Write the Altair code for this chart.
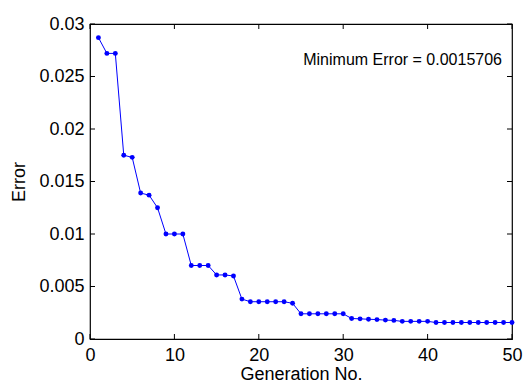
import altair as alt
import pandas as pd

generation = list(range(1, 51))
error = [
    0.0287, 0.0272, 0.0272, 0.0175, 0.0173, 0.0139, 0.0137, 0.0125, 0.0100, 0.0100,
    0.0100, 0.0070, 0.0070, 0.0070, 0.0061, 0.0061, 0.0060, 0.0038, 0.00355, 0.00355,
    0.00355, 0.00355, 0.00355, 0.0034, 0.0024, 0.0024, 0.0024, 0.0024, 0.0024, 0.0024,
    0.00195, 0.00192, 0.00188, 0.00185, 0.00180, 0.00177, 0.00168, 0.00168, 0.00168, 0.00168,
    0.00157, 0.00157, 0.00157, 0.00157, 0.00157, 0.00157, 0.00157, 0.00157, 0.00157, 0.0015706,
]
x_ticks = [0, 10, 20, 30, 40, 50]
y_ticks = [0, 0.005, 0.01, 0.015, 0.02, 0.025, 0.03]
annotation = "Minimum Error = 0.0015706"

FONT = "Liberation Sans"
df = pd.DataFrame({"gen": generation, "err": error})
xt = pd.DataFrame({"t": x_ticks})
yt = pd.DataFrame({"t": y_ticks})

xscale = alt.Scale(domain=[0, 50], nice=False, zero=False)
yscale = alt.Scale(domain=[0, 0.03], nice=False, zero=False)

xaxis = alt.Axis(values=x_ticks, title="Generation No.", grid=False, domain=False,
                 ticks=False, tickSize=0, labelPadding=7, labelFlush=False,
                 labelFont=FONT, labelFontSize=18, labelColor="black",
                 titleFont=FONT, titleFontSize=18, titleFontWeight="normal",
                 titleColor="black", titleBaseline="alphabetic", titleY=40)
yaxis = alt.Axis(values=y_ticks, title="Error", grid=False, domain=False,
                 ticks=False, tickSize=0, labelPadding=6, format="~g",
                 labelFont=FONT, labelFontSize=18, labelColor="black",
                 titleFont=FONT, titleFontSize=18, titleFontWeight="normal",
                 titleColor="black", titleX=-62)

line = alt.Chart(df).mark_line(color="#0000FF", strokeWidth=1).encode(
    x=alt.X("gen:Q", scale=xscale, axis=xaxis),
    y=alt.Y("err:Q", scale=yscale, axis=yaxis),
)
pts = alt.Chart(df).mark_circle(color="#0000FF", size=24, opacity=1).encode(
    x=alt.X("gen:Q", scale=xscale), y=alt.Y("err:Q", scale=yscale)
)

tick_color = "black"
bottom = alt.Chart(xt).mark_rule(color=tick_color, strokeWidth=1, y2Offset=-5).encode(
    x=alt.X("t:Q", scale=xscale), y=alt.datum(0), y2=alt.datum(0))
top = alt.Chart(xt).mark_rule(color=tick_color, strokeWidth=1, y2Offset=5).encode(
    x=alt.X("t:Q", scale=xscale), y=alt.datum(0.03), y2=alt.datum(0.03))
left = alt.Chart(yt).mark_rule(color=tick_color, strokeWidth=1, x2Offset=5).encode(
    y=alt.Y("t:Q", scale=yscale), x=alt.datum(0), x2=alt.datum(0))
right = alt.Chart(yt).mark_rule(color=tick_color, strokeWidth=1, x2Offset=-5).encode(
    y=alt.Y("t:Q", scale=yscale), x=alt.datum(50), x2=alt.datum(50))

text = alt.Chart(pd.DataFrame({"label": [annotation]})).mark_text(
    font=FONT, fontSize=16, align="right", baseline="middle", color="black"
).encode(x=alt.value(412), y=alt.value(36), text="label:N")

chart = alt.layer(bottom, top, left, right, line, pts, text).properties(
    width=422, height=315,
    autosize=alt.AutoSizeParams(type="none"),
    padding={"left": 90, "top": 24, "right": 11, "bottom": 44},
    background="white",
).configure_view(stroke="black", strokeWidth=1.2)

chart.save("out.html", embed_options={"renderer": "svg", "actions": False})
